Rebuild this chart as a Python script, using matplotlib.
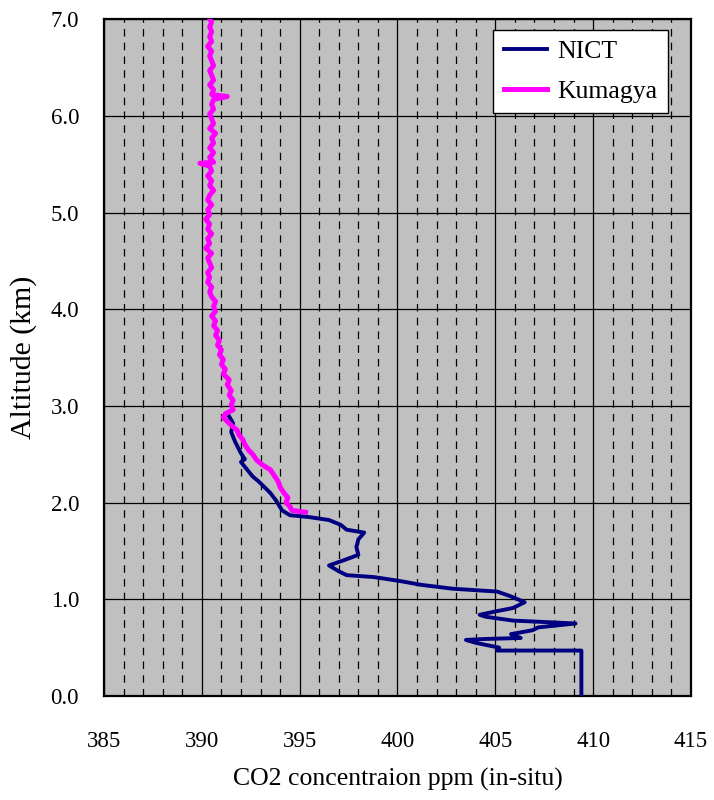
import matplotlib.pyplot as plt
from matplotlib.ticker import MultipleLocator

plt.rcParams['font.family'] = ['Liberation Serif', 'DejaVu Serif']

# NICT profile (ppm, km)
nict_ppm = [409.4, 409.4, 405.1, 405.2, 404.0, 403.5, 404.5, 406.3, 405.8, 406.9,
            407.2, 409.1, 407.0, 405.9, 404.5, 404.2, 404.9, 405.9, 406.5, 405.8,
            405.1, 402.8, 401.2, 400.1, 398.8, 397.4, 397.0, 396.5, 397.2, 398.0,
            397.9, 398.0, 398.3, 397.4, 397.1, 396.5, 395.5, 394.5, 394.1, 393.8,
            393.5, 392.9, 392.6, 392.0, 392.2, 392.0, 391.7, 391.5, 391.6, 391.4]
nict_alt = [0.00, 0.47, 0.47, 0.50, 0.55, 0.58, 0.59, 0.60, 0.64, 0.68,
            0.71, 0.75, 0.77, 0.78, 0.82, 0.84, 0.87, 0.91, 0.97, 1.03,
            1.08, 1.11, 1.15, 1.19, 1.23, 1.25, 1.29, 1.35, 1.40, 1.46,
            1.54, 1.62, 1.69, 1.72, 1.77, 1.82, 1.85, 1.87, 1.92, 2.02,
            2.10, 2.22, 2.27, 2.42, 2.45, 2.51, 2.63, 2.73, 2.82, 2.89]

# Kumagaya profile (ppm, km)
kuma_alt = [1.90, 1.92, 1.96, 2.00, 2.05, 2.10, 2.16, 2.22, 2.28, 2.34,
            2.39, 2.44, 2.50, 2.54, 2.60, 2.65, 2.70, 2.75, 2.80, 2.84,
            2.88, 2.92, 2.96, 3.01, 3.06, 3.11, 3.16, 3.22, 3.27, 3.33,
            3.38, 3.43, 3.48, 3.53, 3.58, 3.63, 3.68, 3.73, 3.78, 3.83,
            3.88, 3.93, 3.98, 4.03, 4.08, 4.13, 4.18, 4.23, 4.28, 4.33,
            4.38, 4.43, 4.48, 4.53, 4.58, 4.63, 4.68, 4.73, 4.78, 4.83,
            4.88, 4.93, 4.98, 5.03, 5.08, 5.13, 5.18, 5.23, 5.28, 5.33,
            5.38, 5.43, 5.48, 5.51, 5.52, 5.57, 5.62, 5.67, 5.72, 5.77,
            5.82, 5.87, 5.92, 5.97, 6.02, 6.07, 6.12, 6.17, 6.20, 6.22,
            6.27, 6.32, 6.37, 6.42, 6.47, 6.52, 6.57, 6.62, 6.67, 6.72,
            6.77, 6.82, 6.87, 6.92, 6.97, 7.00]
kuma_ppm = [395.3, 394.6, 394.5, 394.3, 394.4, 394.2, 394.0, 393.9, 393.7, 393.5,
            393.1, 392.8, 392.6, 392.4, 392.2, 392.1, 391.9, 391.8, 391.5, 391.3,
            391.1, 391.2, 391.6, 391.5, 391.6, 391.4, 391.5, 391.3, 391.4, 391.1,
            391.2, 391.0, 391.1, 390.9, 391.0, 390.8, 390.9, 390.7, 390.8, 390.6,
            390.7, 390.5, 390.7, 390.6, 390.7, 390.5, 390.4, 390.5, 390.3, 390.4,
            390.3, 390.5, 390.4, 390.3, 390.5, 390.2, 390.4, 390.3, 390.5, 390.3,
            390.4, 390.2, 390.4, 390.3, 390.5, 390.3, 390.4, 390.6, 390.4, 390.5,
            390.3, 390.5, 390.4, 389.9, 390.6, 390.4, 390.6, 390.4, 390.6, 390.5,
            390.7, 390.4, 390.6, 390.5, 390.4, 390.6, 390.5, 390.6, 391.3, 390.5,
            390.6, 390.4, 390.6, 390.5, 390.4, 390.6, 390.5, 390.4, 390.5, 390.3,
            390.5, 390.4, 390.5, 390.4, 390.5, 390.4]

fig = plt.figure(figsize=(7.14, 8.0), dpi=100)
ax = fig.add_axes([0.1457, 0.13, 0.822, 0.846])
ax.set_facecolor('#c0c0c0')

ax.plot(nict_ppm, nict_alt, color='#000080', lw=2.8, label='NICT', zorder=3)
ax.plot(kuma_ppm, kuma_alt, color='#ff00ff', lw=3.6, label='Kumagya', zorder=3)

ax.set_xlim(385, 415)
ax.set_ylim(0, 7)
ax.xaxis.set_major_locator(MultipleLocator(5))
ax.xaxis.set_minor_locator(MultipleLocator(1))
ax.yaxis.set_major_locator(MultipleLocator(1))
ax.yaxis.set_major_formatter(plt.FormatStrFormatter('%.1f'))

ax.grid(True, which='major', color='black', lw=0.9)
ax.grid(True, which='minor', axis='x', color='black', lw=0.9, ls=(0, (6, 5)))
ax.set_axisbelow(True)

ax.tick_params(axis='both', which='both', length=0, labelsize=16.5)
ax.tick_params(axis='x', pad=25)
ax.tick_params(axis='y', pad=18)

for s in ax.spines.values():
    s.set_linewidth(1.6)
    s.set_color('black')

ax.set_xlabel('CO2 concentraion ppm (in-situ)', fontsize=18.5, labelpad=12)
ax.set_ylabel('Altitude (km)', fontsize=21.5, labelpad=10)

leg = ax.legend(loc='upper right', bbox_to_anchor=(0.961, 0.984), fontsize=18.5,
                frameon=True, fancybox=False, framealpha=1, edgecolor='black',
                handlelength=1.7, handletextpad=0.4, borderpad=0.4,
                labelspacing=0.65, borderaxespad=0)
leg.get_frame().set_linewidth(1.0)

plt.savefig('out.png', dpi=100)
plt.close()
